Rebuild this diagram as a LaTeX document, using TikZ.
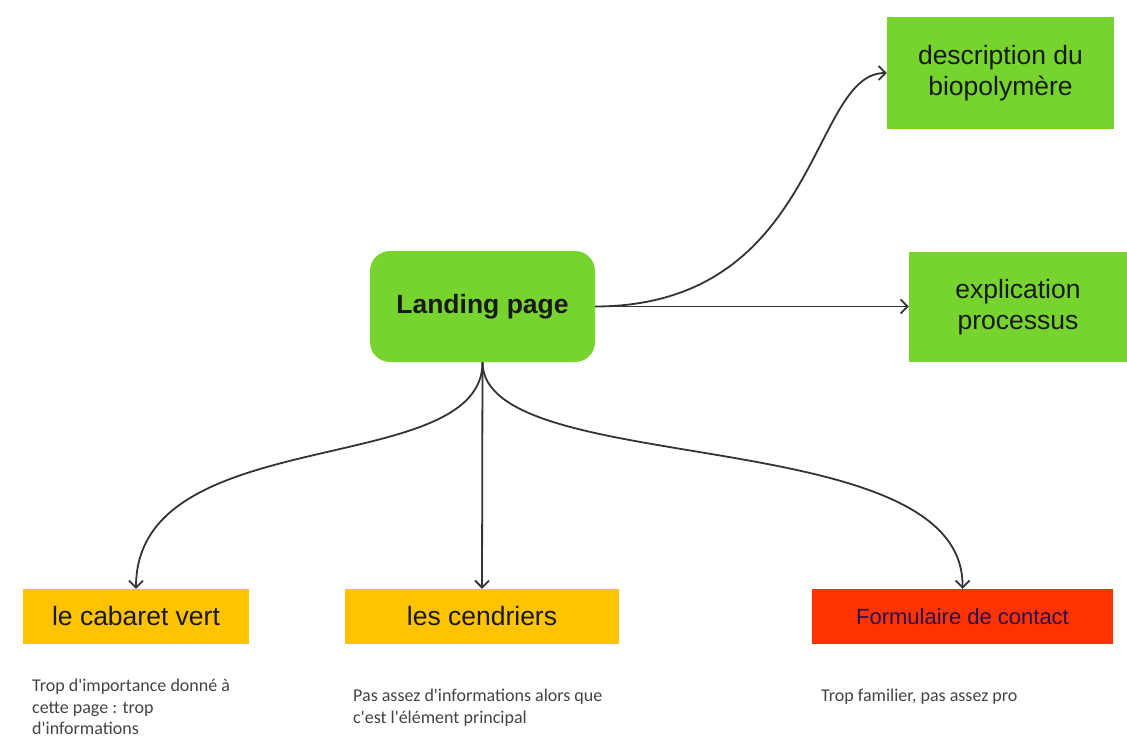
\documentclass[tikz,border=0pt]{standalone}
\usepackage{fontspec}
\setmainfont{Liberation Sans}
\newfontfamily\notefont{Carlito}
\usetikzlibrary{arrows.meta}
\definecolor{boxgreen}{HTML}{77D42F}
\definecolor{boxyellow}{HTML}{FFC300}
\definecolor{boxred}{HTML}{FF3300}
\definecolor{navytext}{HTML}{2A1050}
\definecolor{linegray}{HTML}{333333}
\definecolor{notegray}{HTML}{444444}
\tikzset{
  box/.style={draw=none, inner sep=0pt, align=center, font=\fontsize{26.5}{31}\selectfont, text=black!90},
  conn/.style={draw=linegray, line width=1.8pt, -{Straight Barb[length=7pt,width=14pt,line width=1.8pt]}},
  note/.style={anchor=north west, align=left, inner sep=0pt, text=notegray, font=\notefont\fontsize{18}{21.5}\selectfont}
}
\begin{document}
\begin{tikzpicture}[x=1pt,y=-1pt]
\useasboundingbox[fill=white] (0,0) rectangle (1127,738);
% nodes
\node[box, fill=boxgreen, rounded corners=20pt, minimum width=225pt, minimum height=111pt, font=\bfseries\fontsize{26.5}{31}\selectfont] (land) at (482.5,306.5) {Landing page};
\node[box, fill=boxgreen, minimum width=227pt, minimum height=112pt] (desc) at (1000.5,73) {description du\\biopolymère};
\node[box, fill=boxgreen, minimum width=218pt, minimum height=110pt] (expl) at (1018,307) {explication\\processus};
\node[box, fill=boxyellow, minimum width=226pt, minimum height=55pt] (cab) at (136,616.5) {le cabaret vert};
\node[box, fill=boxyellow, minimum width=274pt, minimum height=55pt] (cend) at (482,616.5) {les cendriers};
\node[box, fill=boxred, minimum width=301pt, minimum height=55pt, text=navytext, font=\fontsize{22}{26}\selectfont] (form) at (962.5,616.5) {Formulaire de contact};
% notes
\node[note] (n1) at (32,679) {Trop d'importance donné à\\cette page : trop\\d'informations};
\node[note] (n2) at (353,689) {Pas assez d'informations alors que\\c'est l'élément principal};
\node[note] (n3) at (821,689) {Trop familier, pas assez pro};
% connectors
\draw[conn] (land.east) -- (expl.west |- land.east);
\draw[conn] (land.east) .. controls (820,306) and (810,73) .. (desc.west);
\draw[conn] (land.south) .. controls (483,480) and (136,420) .. (cab.north);
\draw[conn] (land.south) -- (cend.north);
\draw[conn] (land.south) .. controls (483,480) and (965,420) .. (form.north);
\end{tikzpicture}
\end{document}
